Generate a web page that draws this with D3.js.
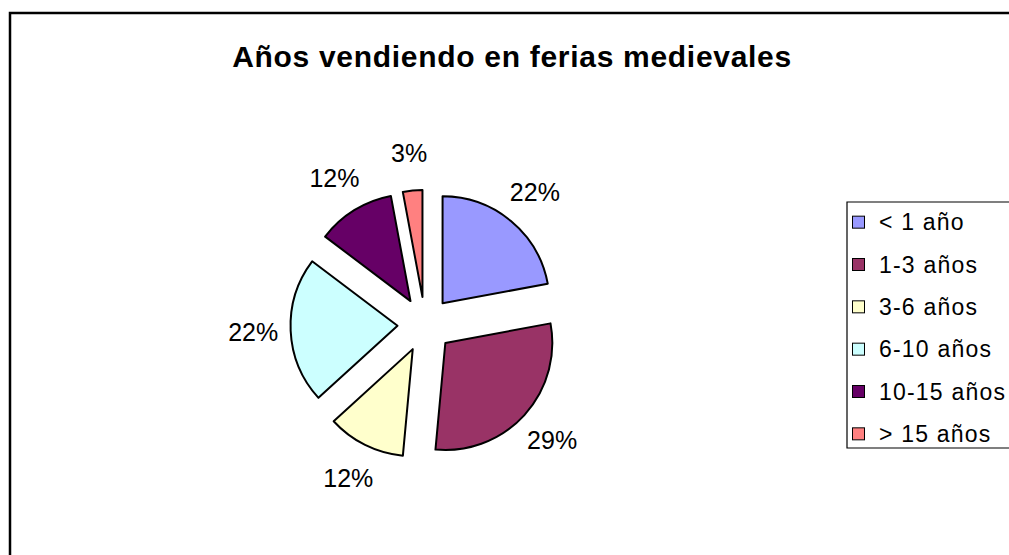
<!DOCTYPE html>
<html>
<head>
<meta charset="utf-8">
<script src="https://cdn.jsdelivr.net/npm/d3@7"></script>
<style>
  html, body { margin: 0; background: #fff; overflow: hidden; }
  svg { display: block; overflow: hidden; }
  text { font-family: "Liberation Sans", Arial, sans-serif; fill: #000; }
</style>
</head>
<body>
<div id="chart-area"></div>
<script>
// DATA
const title = "Años vendiendo en ferias medievales"
const categories = ["< 1 año", "1-3 años", "3-6 años", "6-10 años", "10-15 años", "> 15 años"]
const values = [15, 20, 8, 15, 8, 2]
const colors = ["#9999FF", "#993366", "#FFFFCC", "#CCFFFF", "#660066", "#FF8080"]

const W = 1009, H = 555
const svg = d3.select("#chart-area").append("svg").attr("width", W).attr("height", H)

// chart frame: only the left and top edges are inside the window
svg.append("path")
   .attr("d", "M10,600V13H1100")
   .attr("fill", "none").attr("stroke", "#000").attr("stroke-width", 2.5)

svg.append("text")
   .attr("x", 512).attr("y", 67)
   .attr("text-anchor", "middle")
   .style("font-size", "30px").style("font-weight", "bold")
   .style("letter-spacing", "0.7px")
   .text(title)

// PIE
const cx = 425, cy = 324.5, r = 107, explode = 27.5, labelR = 172
const total = d3.sum(values)

const pie = d3.pie().sort(null).value(d => d)
const arc = d3.arc().innerRadius(0).outerRadius(r)
const slices = pie(values)

const mid = d => (d.startAngle + d.endAngle) / 2

const g = svg.append("g").attr("transform", `translate(${cx},${cy})`)

g.selectAll("path").data(slices).enter()
 .append("path")
 .attr("d", arc)
 .attr("transform", d => `translate(${Math.sin(mid(d)) * explode},${-Math.cos(mid(d)) * explode})`)
 .attr("fill", (d, i) => colors[i])
 .attr("stroke", "#000").attr("stroke-width", 2)
 .attr("stroke-linejoin", "round")

g.selectAll("text.lbl").data(slices).enter()
 .append("text").attr("class", "lbl")
 .attr("x", d => Math.sin(mid(d)) * labelR)
 .attr("y", d => -Math.cos(mid(d)) * labelR + 9)
 .attr("text-anchor", "middle")
 .style("font-size", "25px")
 .text(d => Math.round(d.value / total * 100) + "%")

// LEGEND
const legend = svg.append("g")
legend.append("path")
      .attr("d", "M1100,202H847V448H1100")
      .attr("fill", "#fff").attr("stroke", "#000").attr("stroke-width", 1.2)

const row = d3.scaleBand().domain(categories).range([201, 455])

const item = legend.selectAll("g.item").data(categories).enter()
  .append("g").attr("class", "item")
  .attr("transform", d => `translate(0,${row(d) + row.bandwidth() / 2})`)

item.append("rect")
    .attr("x", 852.5).attr("y", -6).attr("width", 12).attr("height", 12)
    .attr("fill", (d, i) => colors[i]).attr("stroke", "#000").attr("stroke-width", 1)

item.append("text")
    .attr("x", 879).attr("y", 8)
    .style("font-size", "23px").style("letter-spacing", "1.2px")
    .text(d => d)
</script>
</body>
</html>
